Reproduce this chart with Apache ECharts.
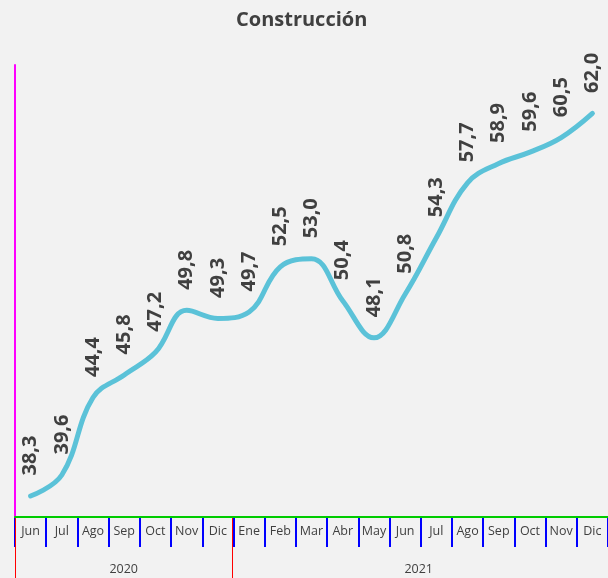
<!DOCTYPE html>
<html>
<head>
<meta charset="utf-8">
<script src="https://cdn.jsdelivr.net/npm/echarts@6/dist/echarts.min.js"></script>
<style>
html,body{margin:0;padding:0;background:#f2f2f2;}
#main{width:608px;height:578px;}
</style>
</head>
<body>
<div id="main"></div>
<script>
// meses y valores del indice de construccion
var meses = ['Jun','Jul','Ago','Sep','Oct','Nov','Dic','Ene','Feb','Mar','Abr','May','Jun','Jul','Ago','Sep','Oct','Nov','Dic'];
var valores = [38.3, 39.6, 44.4, 45.8, 47.2, 49.8, 49.3, 49.7, 52.5, 53.0, 50.4, 48.1, 50.8, 54.3, 57.7, 58.9, 59.6, 60.5, 62.0];
// años y cantidad de meses de cada uno
var anios = ['2020', '2021'];
var mesesPorAnio = [7, 12];

// eje de años en medios meses: etiqueta en el centro, separador al inicio
var mediosMeses = [];
var separadores = [];
var pos = 0;
for (var k = 0; k <= 2 * meses.length; k++) mediosMeses.push('');
for (var a = 0; a < anios.length; a++) {
  separadores.push(pos);
  mediosMeses[pos + mesesPorAnio[a]] = anios[a];
  pos += 2 * mesesPorAnio[a];
}

var txt = '#404040';
var chart = echarts.init(document.getElementById('main'));

var option = {
  backgroundColor: '#f2f2f2',
  title: {
    text: 'Construcción',
    left: 231,
    top: 5,
    textStyle: {fontFamily: 'Open Sans', fontWeight: 'bold', fontSize: 20, color: txt}
  },
  grid: [
    {left: 15, right: -2, top: 65, bottom: 61},
    // franja de los meses
    {left: 15, right: -2, top: 517, bottom: 31},
    // franja de los años
    {left: 15, right: -2, top: 517, bottom: 0}
  ],
  xAxis: [{
    type: 'category',
    gridIndex: 0,
    data: meses,
    boundaryGap: true,
    axisLine: {lineStyle: {color: '#0c0', width: 2}},
    axisTick: {show: false},
    axisLabel: {show: false}
  }, {
    type: 'category',
    gridIndex: 1,
    position: 'top',
    data: meses,
    boundaryGap: true,
    axisLine: {show: false},
    axisTick: {show: false},
    splitLine: {show: true, interval: 0, lineStyle: {color: '#00f', width: 2}},
    axisLabel: {inside: true, interval: 0, margin: 8, fontFamily: 'Open Sans', fontSize: 12.5, color: txt}
  }, {
    type: 'category',
    gridIndex: 2,
    position: 'top',
    data: mediosMeses,
    boundaryGap: false,
    axisLine: {show: false},
    axisTick: {show: false},
    splitLine: {
      show: true,
      interval: function (idx) { return separadores.indexOf(idx) >= 0; },
      lineStyle: {color: '#f00', width: 1}
    },
    axisLabel: {inside: true, interval: 0, margin: 46, fontFamily: 'Open Sans', fontSize: 12.5, color: txt}
  }],
  yAxis: [{
    type: 'value',
    gridIndex: 0,
    min: 37, max: 65,
    axisLine: {show: true, lineStyle: {color: '#f0f', width: 2}},
    axisTick: {show: false},
    axisLabel: {show: false},
    splitLine: {show: false}
  }, {
    type: 'value', gridIndex: 1, show: false
  }, {
    type: 'value', gridIndex: 2, show: false
  }],
  series: [{
    type: 'line',
    data: valores,
    smooth: 0.4,
    symbol: 'circle',
    symbolSize: 1,
    itemStyle: {color: 'rgba(0,0,0,0)'},
    lineStyle: {color: '#5bc2d8', width: 5, cap: 'round'},
    label: {
      show: true,
      position: 'top',
      distance: 20,
      rotate: 90,
      align: 'left',
      verticalAlign: 'middle',
      fontFamily: 'Open Sans',
      fontWeight: 'bold',
      fontSize: 20,
      color: txt,
      formatter: function (p) { return p.value.toFixed(1).replace('.', ','); }
    }
  }]
};
chart.setOption(option);
</script>
</body>
</html>
